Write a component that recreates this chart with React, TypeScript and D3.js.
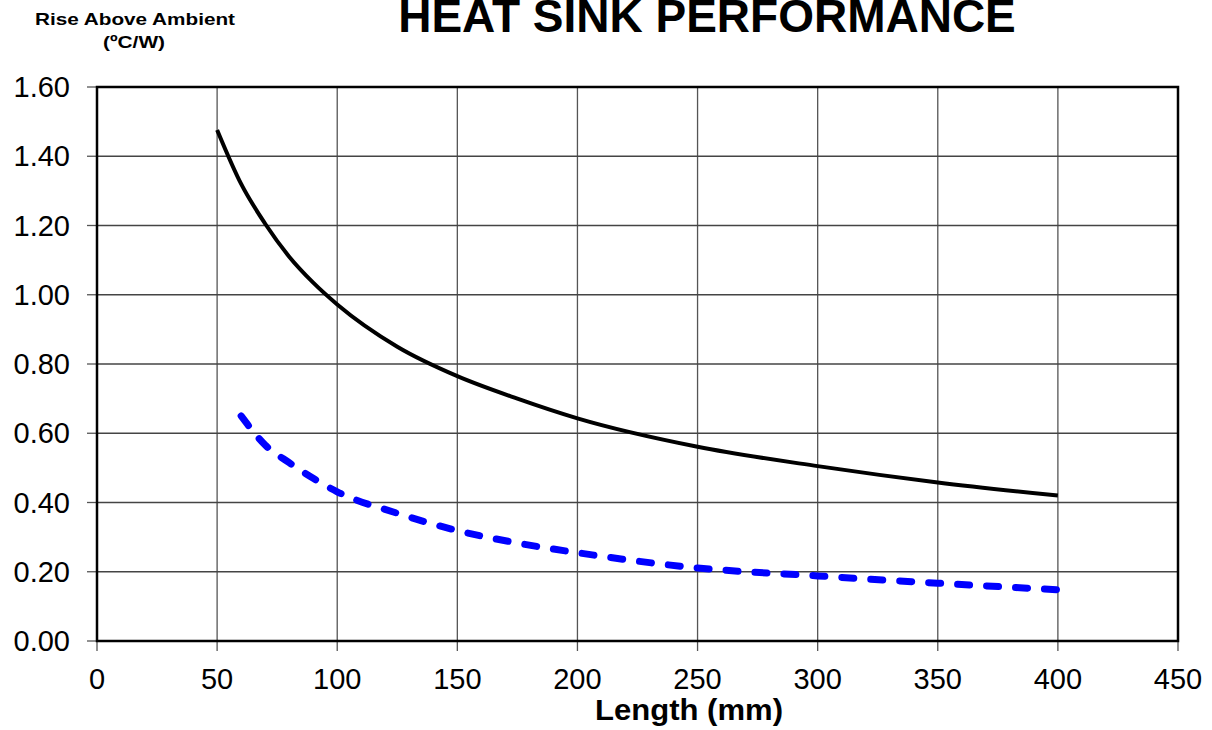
import React from "react";
import * as d3 from "d3";

const xTicks = [0, 50, 100, 150, 200, 250, 300, 350, 400, 450];
const yTicks = [0, 0.2, 0.4, 0.6, 0.8, 1.0, 1.2, 1.4, 1.6];

const blackX = [50, 60, 70, 80, 90, 100, 125, 150, 175, 200, 250, 300, 350, 400];
const blackY = [1.476, 1.32, 1.205, 1.11, 1.035, 0.972, 0.85, 0.765, 0.70, 0.643, 0.561, 0.505, 0.458, 0.42];

const blueX = [60, 70, 80, 90, 100, 125, 150, 175, 200, 250, 300, 350, 400];
const blueY = [0.65, 0.566, 0.515, 0.47, 0.431, 0.369, 0.319, 0.283, 0.255, 0.211, 0.188, 0.167, 0.148];

const W = 1212, H = 730;
const L = 97, R = 1178, T = 87, B = 641;

export default function App() {
  const x = d3.scaleLinear().domain([0, 450]).range([L, R]);
  const y = d3.scaleLinear().domain([0, 1.6]).range([B, T]);
  const line = d3
    .line<[number, number]>()
    .x((d) => x(d[0]))
    .y((d) => y(d[1]))
    .curve(d3.curveMonotoneX);
  const blackPts = blackX.map((v, i) => [v, blackY[i]] as [number, number]);
  const bluePts = blueX.map((v, i) => [v, blueY[i]] as [number, number]);
  const font = "Arial, 'Liberation Sans', sans-serif";
  return (
    <svg
      width={W}
      height={H}
      style={{ position: "absolute", left: 0, top: 0, background: "#fff" }}
      fontFamily={font}
    >
      <rect x={0} y={0} width={W} height={H} fill="#fff" />
      {/* grid */}
      {xTicks.slice(1, -1).map((t) => (
        <line key={"gx" + t} x1={x(t)} x2={x(t)} y1={T} y2={B} stroke="#555" strokeWidth={1.3} />
      ))}
      {yTicks.slice(1, -1).map((t) => (
        <line key={"gy" + t} x1={L} x2={R} y1={y(t)} y2={y(t)} stroke="#444" strokeWidth={1.3} />
      ))}
      {/* ticks */}
      {xTicks.map((t) => (
        <line key={"tx" + t} x1={x(t)} x2={x(t)} y1={B} y2={B + 10} stroke="#555" strokeWidth={1.3} />
      ))}
      {yTicks.map((t) => (
        <line key={"ty" + t} x1={L - 10} x2={L} y1={y(t)} y2={y(t)} stroke="#555" strokeWidth={1.3} />
      ))}
      {/* frame */}
      <rect x={L} y={T} width={R - L} height={B - T} fill="none" stroke="#000" strokeWidth={2.5} />
      {/* series */}
      <path d={line(bluePts) || ""} fill="none" stroke="#0000ff" strokeWidth={7} strokeDasharray="12 17" strokeLinecap="round" />
      <path d={line(blackPts) || ""} fill="none" stroke="#000" strokeWidth={4} />
      {/* tick labels */}
      {xTicks.map((t) => (
        <text key={"lx" + t} x={x(t)} y={689} fontSize={29} textAnchor="middle" fill="#000">
          {t}
        </text>
      ))}
      {yTicks.map((t) => (
        <text key={"ly" + t} x={70} y={y(t) + 10} fontSize={29} textAnchor="end" fill="#000">
          {t.toFixed(2)}
        </text>
      ))}
      {/* titles */}
      <text x={707} y={32} fontSize={46} fontWeight="bold" textAnchor="middle" fill="#000">
        HEAT SINK PERFORMANCE
      </text>
      <text x={135} y={25} fontSize={16.5} fontWeight="bold" textAnchor="middle" fill="#000" textLength={200} lengthAdjust="spacingAndGlyphs">
        Rise Above Ambient
      </text>
      <text x={134} y={48} fontSize={17} fontWeight="bold" textAnchor="middle" fill="#000" textLength={62} lengthAdjust="spacingAndGlyphs">
        (ºC/W)
      </text>
      <text x={689} y={720} fontSize={29} fontWeight="bold" textAnchor="middle" fill="#000" textLength={188} lengthAdjust="spacingAndGlyphs">
        Length (mm)
      </text>
    </svg>
  );
}
